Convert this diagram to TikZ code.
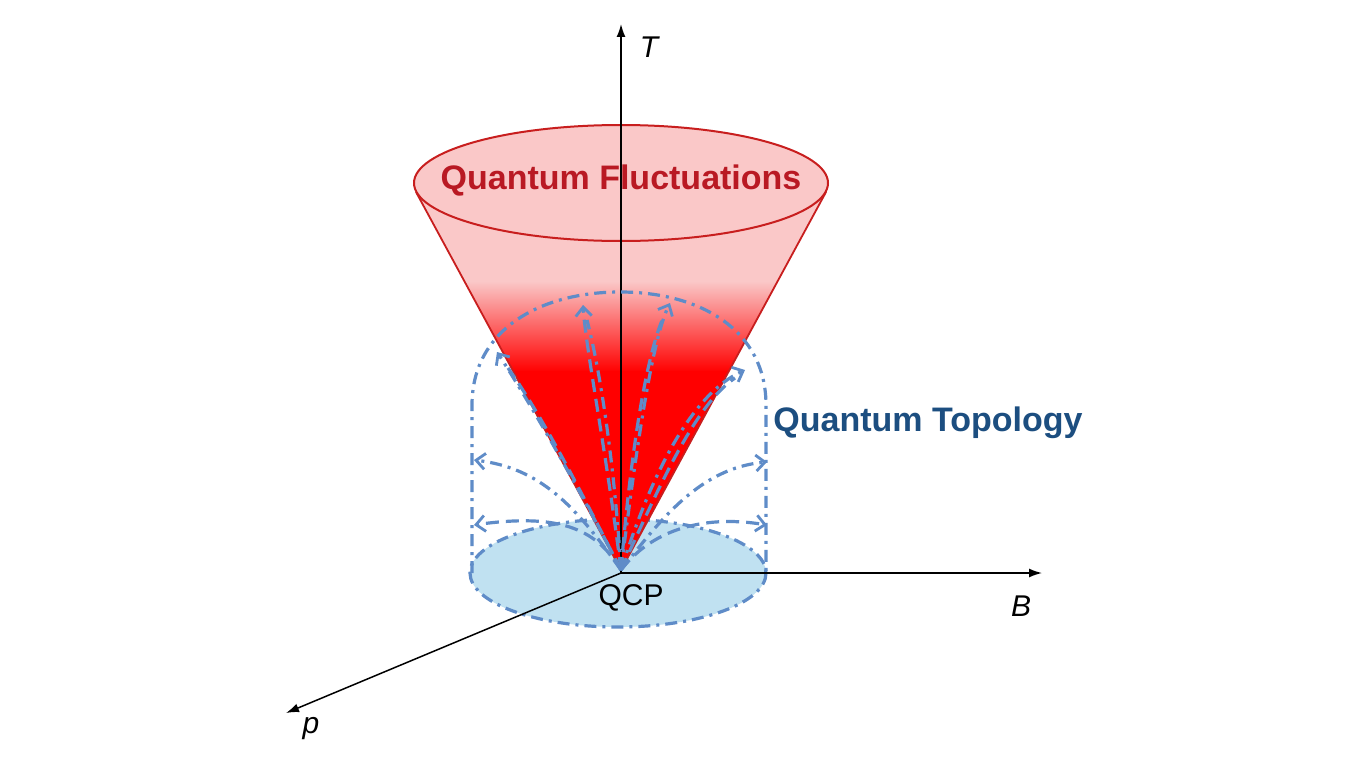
\documentclass[tikz,border=0pt]{standalone}
\usepackage{fontspec}
\setmainfont{Liberation Sans}
\usetikzlibrary{arrows.meta}
\definecolor{fluctred}{RGB}{185,25,35}
\definecolor{conestroke}{RGB}{200,30,30}
\definecolor{conepink}{RGB}{250,200,200}
\definecolor{conered}{RGB}{255,0,0}
\definecolor{topoblue}{RGB}{28,78,128}
\definecolor{lineblue}{RGB}{95,140,200}
\definecolor{diskblue}{RGB}{192,225,241}
\tikzset{
  axisline/.style={line width=1.5pt, black, -{Latex[length=13pt,width=9pt]}},
  axislabel/.style={font=\fontsize{30}{36}\selectfont\itshape},
  dashdot/.style={lineblue, line width=3.2pt, dash pattern=on 12pt off 6pt on 3pt off 6pt},
  dashline/.style={lineblue, line width=3.2pt, dash pattern=on 13pt off 7pt},
  bluetip/.style={-{Straight Barb[length=9pt,width=16pt,line width=2.8pt]}},
  bigtitle/.style={font=\fontsize{34}{40}\selectfont\bfseries},
}
\begin{document}
\begin{tikzpicture}[x=1pt,y=-1pt]
\useasboundingbox (0,0) rectangle (1365,768);
\fill[white] (0,0) rectangle (1365,768);

\coordinate (O) at (621,573);
\coordinate (apex) at (621,570);
\coordinate (Tend) at (621,24);
\coordinate (Bend) at (1042,573);
\coordinate (pend) at (286,713);

% base disk
\draw[dashdot, fill=diskblue] (618,573) ellipse [x radius=148, y radius=54];

% B and p axes
\draw[axisline] (O) -- (Bend);
\draw[axisline] (O) -- (pend);

% cone body
\begin{scope}
  \clip (416,192) -- (apex) -- (826,192) -- cycle;
  \fill[conepink] (400,120) rectangle (840,282);
  \shade[top color=conepink, bottom color=conered] (400,281) rectangle (840,372);
  \fill[conered] (400,371) rectangle (840,580);
\end{scope}
\draw[conestroke, line width=1.8pt, line join=round] (416,192) -- (apex) -- (826,192);
\draw[conestroke, line width=2pt, fill=conepink] (621,183) ellipse [x radius=207, y radius=58];

% T axis
\draw[axisline] (O) -- (Tend);

% outer dome
\draw[dashdot] (472,573) -- (472,405) .. controls (472,330) and (540,292) .. (620,292)
  .. controls (700,292) and (766,330) .. (766,405) -- (766,573);

% blue flow arrows
\draw[dashline, bluetip] (apex) .. controls (598,532) and (565,512) .. (474,525);
\draw[dashdot, bluetip] (apex) .. controls (575,505) and (540,468) .. (474,460);
\draw[dashdot, bluetip] (apex) .. controls (575,480) and (525,395) .. (497,352);
\draw[dashline] (apex) .. controls (585,500) and (545,420) .. (508,368);
\draw[dashline, bluetip] (apex) .. controls (606,450) and (586,350) .. (583,305);
\draw[dashdot] (apex) .. controls (614,460) and (600,370) .. (587,320);
\draw[dashdot, bluetip] (apex) .. controls (636,450) and (652,340) .. (670,303);
\draw[dashline] (apex) .. controls (630,460) and (645,360) .. (663,318);
\draw[dashdot, bluetip] (apex) .. controls (650,478) and (690,395) .. (745,370);
\draw[dashline] (apex) .. controls (660,485) and (695,405) .. (735,378);
\draw[dashdot, bluetip] (apex) .. controls (660,520) and (700,468) .. (767,462);
\draw[dashline, bluetip] (apex) .. controls (650,532) and (700,514) .. (767,525);

% labels
\node[bigtitle, text=fluctred] (fluct) at (621,181) {Quantum Fluctuations};
\node[bigtitle, text=topoblue] (topo) at (928,423) {Quantum Topology};
\node[font=\fontsize{30}{36}\selectfont] (qcp) at (631,598) {QCP};
\node[axislabel] (Tlab) at (649,47) {T};
\node[axislabel] (Blab) at (1021,606) {B};
\node[axislabel] (plab) at (311,729) {p};
\end{tikzpicture}
\end{document}
